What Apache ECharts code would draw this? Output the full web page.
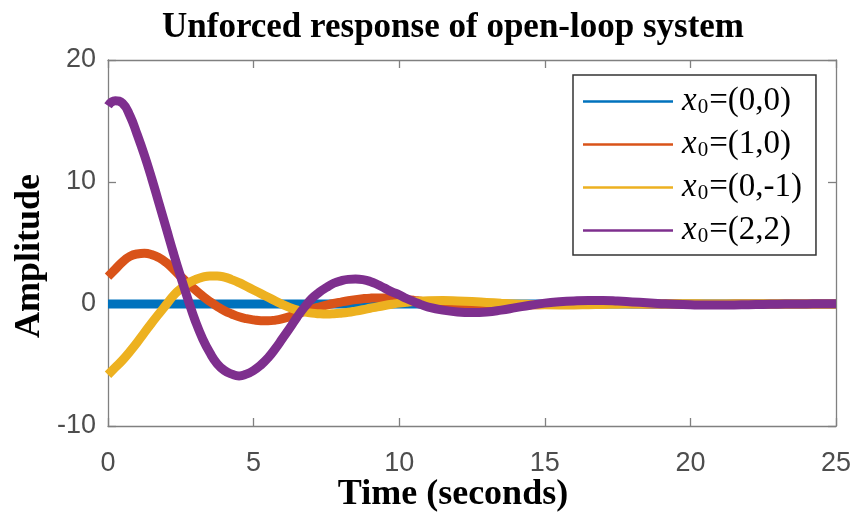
<!DOCTYPE html>
<html>
<head>
<meta charset="utf-8">
<script src="https://cdn.jsdelivr.net/npm/echarts@6/dist/echarts.min.js"></script>
<style>html,body{margin:0;padding:0;background:#fff}#c{width:859px;height:515px}</style>
</head>
<body>
<div id="c"></div>
<script>
const time = [0,0.25,0.5,0.75,1,1.25,1.5,1.75,2,2.25,2.5,2.75,3,3.25,3.5,3.75,4,4.25,4.5,4.75,5,5.25,5.5,5.75,6,6.25,6.5,6.75,7,7.25,7.5,7.75,8,8.25,8.5,8.75,9,9.25,9.5,9.75,10,10.25,10.5,10.75,11,
  11.5,12,12.5,13,13.5,14,14.5,15,15.5,16,16.5,17,17.5,18,18.5,19,19.5,20,20.5,21,21.5,22,22.5,23,23.5,24,24.5,25];
const seriesNames = ['x0=(0,0)','x0=(1,0)','x0=(0,-1)','x0=(2,2)'];
const resp00 = [0,0,0,0,0,0,0,0,0,0,0,0,0,0,0,0,0,0,0,0,0,0,0,0,0,0,0,0,0,0,0,0,0,0,0,0,0,0,0,0,0,0,0,0,0,
  0,0,0,0,0,0,0,0,0,0,0,0,0,0,0,0,0,0,0,0,0,0,0,0,0,0,0,0];
const resp10 = [2.25,2.85,3.45,3.9,4.1,4.15,4.05,3.8,3.4,2.85,2.25,1.7,1.15,0.65,0.2,-0.2,-0.55,-0.82,-1.05,-1.2,-1.3,-1.37,-1.38,-1.32,-1.2,-1.03,-0.83,-0.62,-0.42,-0.25,-0.1,0.04,0.16,0.27,0.36,0.43,0.48,0.5,0.5,0.48,0.43,0.37,0.3,0.22,0.15,
  0.03,-0.06,-0.12,-0.15,-0.15,-0.12,-0.08,-0.04,0,0.03,0.04,0.05,0.04,0.03,0.01,0,-0.01,-0.02,-0.02,-0.02,-0.01,-0.01,0,0,0,0,0,0];
const resp0m1 = [-5.8,-5.2,-4.6,-3.9,-3.15,-2.35,-1.55,-0.8,-0.05,0.7,1.25,1.7,2.0,2.2,2.3,2.3,2.2,2.0,1.75,1.45,1.15,0.85,0.55,0.25,-0.05,-0.3,-0.5,-0.65,-0.75,-0.8,-0.82,-0.8,-0.75,-0.68,-0.58,-0.47,-0.35,-0.23,-0.12,-0.02,0.07,0.14,0.2,0.24,0.27,
  0.28,0.25,0.2,0.13,0.06,0,-0.04,-0.07,-0.08,-0.08,-0.06,-0.04,-0.02,0,0.01,0.02,0.02,0.02,0.01,0.01,0,0,0,0,0,0,0,0];
const resp22 = [16.25,16.65,16.45,15.45,13.9,12.2,10.3,8.25,6.2,4.15,2.2,0.35,-1.4,-2.85,-4.0,-4.9,-5.45,-5.75,-5.9,-5.75,-5.45,-5.0,-4.4,-3.65,-2.8,-1.95,-1.05,-0.25,0.45,0.95,1.35,1.7,1.9,2.02,2.05,2.0,1.85,1.6,1.3,1.0,0.75,0.45,0.2,-0.05,-0.25,
  -0.5,-0.65,-0.7,-0.65,-0.5,-0.3,-0.1,0.07,0.18,0.25,0.28,0.28,0.24,0.17,0.1,0.03,-0.03,-0.07,-0.09,-0.09,-0.08,-0.06,-0.04,-0.02,0,0.01,0.02,0.02];
const xTicks = [0,5,10,15,20,25];
const yTicks = [-10,0,10,20];
const colors = ['#0072BD','#D95319','#EDB120','#7E2F8E'];

const allData = [resp00, resp10, resp0m1, resp22];
const chart = echarts.init(document.getElementById('c'), null, {renderer:'canvas'});
const serif = '"Liberation Serif","Times New Roman",serif';
const sans = '"Liberation Sans",Arial,sans-serif';
const axisColor = '#808080';
const labelColor = '#4d4d4d';

function mkX(pos, show){
  return {
    type:'value', position:pos, min:xTicks[0], max:xTicks[xTicks.length-1], interval:5,
    axisLine:{show:true, onZero:false, lineStyle:{color:axisColor,width:1.3}},
    axisTick:{show:true, inside:true, length:8, lineStyle:{color:axisColor,width:1.3}},
    axisLabel:{show:show, color:labelColor, fontFamily:sans, fontSize:27, margin:24},
    splitLine:{show:false}
  };
}
function mkY(pos, show){
  return {
    type:'value', position:pos, min:yTicks[0], max:yTicks[yTicks.length-1], interval:10,
    axisLine:{show:true, onZero:false, lineStyle:{color:axisColor,width:1.3}},
    axisTick:{show:true, inside:true, length:8, lineStyle:{color:axisColor,width:1.3}},
    axisLabel:{show:show, color:labelColor, fontFamily:sans, fontSize:27, margin:12},
    splitLine:{show:false}
  };
}

const option = {
  animation:false,
  backgroundColor:'#fff',
  title:{
    text:'Unforced response of open-loop system',
    left:157, top:5,
    textStyle:{fontFamily:serif, fontWeight:'bold', fontSize:35, color:'#000'}
  },
  grid:{left:108, right:23, top:60, bottom:89, containLabel:false, outerBoundsMode:'none'},
  xAxis:[mkX('bottom',true), mkX('top',false)],
  yAxis:[mkY('left',true), mkY('right',false)],
  graphic:[
    {type:'text', x:453, y:495, style:{text:'Time (seconds)', fontFamily:serif, fontWeight:'bold', fontSize:36, fill:'#000', textAlign:'center', textVerticalAlign:'middle'}},
    {type:'text', x:30, y:256, rotation:Math.PI/2, style:{text:'Amplitude', fontFamily:serif, fontWeight:'bold', fontSize:36, fill:'#000', textAlign:'center', textVerticalAlign:'middle'}}
  ],
  legend:{
    orient:'vertical', left:573, top:75,
    backgroundColor:'#fff', borderColor:'#333', borderWidth:1.5,
    padding:[10,14,8,10], itemGap:10,
    icon:'rect', itemWidth:90, itemHeight:2.5,
    data:seriesNames,
    formatter:function(name){ return '{x|x}{s|0}{t|' + name.slice(2) + '}'; },
    textStyle:{
      color:'#000', fontFamily:serif, fontSize:33, lineHeight:30,
      rich:{
        x:{fontFamily:serif, fontStyle:'italic', fontSize:33, color:'#000', padding:[0,0,0,4]},
        s:{fontFamily:serif, fontSize:21, color:'#000', padding:[12,1,0,1]},
        t:{fontFamily:serif, fontSize:33, color:'#000'}
      }
    }
  },
  series: allData.map(function(d,i){
    return {
      name:seriesNames[i], type:'line', smooth:true, showSymbol:false, symbol:'none',
      xAxisIndex:0, yAxisIndex:0,
      data: time.map(function(t,j){ return [t, d[j]]; }),
      lineStyle:{color:colors[i], width:9},
      itemStyle:{color:colors[i]},
      z:2+i
    };
  })
};
chart.setOption(option);
</script>
</body>
</html>
